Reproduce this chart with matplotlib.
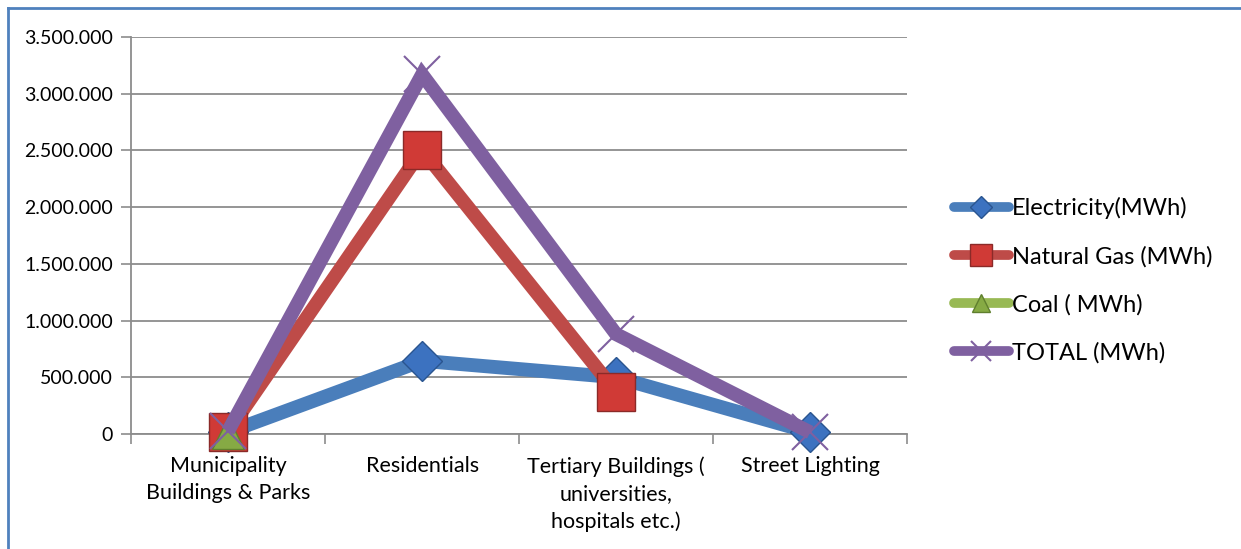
import numpy as np
import matplotlib.pyplot as plt
from matplotlib.lines import Line2D

categories = ['Municipality\nBuildings & Parks', 'Residentials',
              'Tertiary Buildings (\nuniversities,\nhospitals etc.)', 'Street Lighting']
electricity = [15000, 645000, 500000, 15000]
natural_gas = [20000, 2505000, 370000, np.nan]
coal = [5000, np.nan, np.nan, np.nan]
total = [25000, 3170000, 880000, 15000]
series_names = ['Electricity(MWh)', 'Natural Gas (MWh)', 'Coal ( MWh)', 'TOTAL (MWh)']
yticks = [0, 500000, 1000000, 1500000, 2000000, 2500000, 3000000, 3500000]

plt.rcParams['font.family'] = ['Lato', 'DejaVu Sans']

fig = plt.figure(figsize=(12.41, 5.49), dpi=100)
ax = fig.add_axes([0.1056, 0.2095, 0.731 - 0.1056, 0.9326 - 0.2095])

x = np.arange(len(categories))
styles = [
    (electricity, '#4A7EBB', 'D', '#3C72C0', '#2A558F', 20),
    (natural_gas, '#BE4B48', 's', '#D03A36', '#8B2A28', 27),
    (coal, '#98B954', '^', '#86AA44', '#5F7F2E', 23),
    (total, '#7F60A0', 'x', '#7F60A0', '#7F60A0', 26),
]
handles = []
for (vals, col, mk, fc, ec, ms), name in zip(styles, series_names):
    mew = 1.5 if mk == 'x' else 1.0
    ax.plot(x, vals, color=col, lw=10, solid_capstyle='butt', solid_joinstyle='miter',
            marker=mk, markersize=ms, markerfacecolor=fc, markeredgecolor=ec,
            markeredgewidth=mew, zorder=3, clip_on=False)
    handles.append(Line2D([0], [0], color=col, lw=7, solid_capstyle='round',
                          marker=mk, markersize=ms * 0.58, markerfacecolor=fc,
                          markeredgecolor=ec, markeredgewidth=mew))

ax.set_xlim(-0.5, len(categories) - 0.5)
ax.set_ylim(0, 3500000)
ax.set_yticks(yticks)
ax.set_yticklabels(['0' if v == 0 else f'{v:,}'.replace(',', '.') for v in yticks], fontsize=14)
ax.set_xticks(x)
ax.set_xticklabels(categories, fontsize=15.5, linespacing=1.45)
ax.set_xticks(np.arange(len(categories) + 1) - 0.5, minor=True)
ax.tick_params(axis='x', which='major', length=0, pad=16)
ax.tick_params(axis='x', which='minor', length=7, color='#8C8C8C', width=1.2)
ax.tick_params(axis='y', length=7, color='#8C8C8C', width=1.2, pad=6)
ax.yaxis.grid(True, color='#8C8C8C', lw=1.3)
ax.set_axisbelow(True)
for s in ['top', 'right']:
    ax.spines[s].set_visible(False)
for s in ['left', 'bottom']:
    ax.spines[s].set_color('#8C8C8C')
    ax.spines[s].set_linewidth(1.3)

fig.legend(handles, series_names, loc='upper left', bbox_to_anchor=(0.759, 0.662),
           frameon=False, fontsize=17, handlelength=2.35, handletextpad=0.1,
           labelspacing=1.12, borderpad=0)

# outer chart border (top and left only visible)
fig.add_artist(Line2D([0.0065, 1.0], [0.986, 0.986], color='#4F81BD', lw=2))
fig.add_artist(Line2D([0.0065, 0.0065], [0.0, 0.986], color='#4F81BD', lw=2))

fig.savefig('out.png', dpi=100)
